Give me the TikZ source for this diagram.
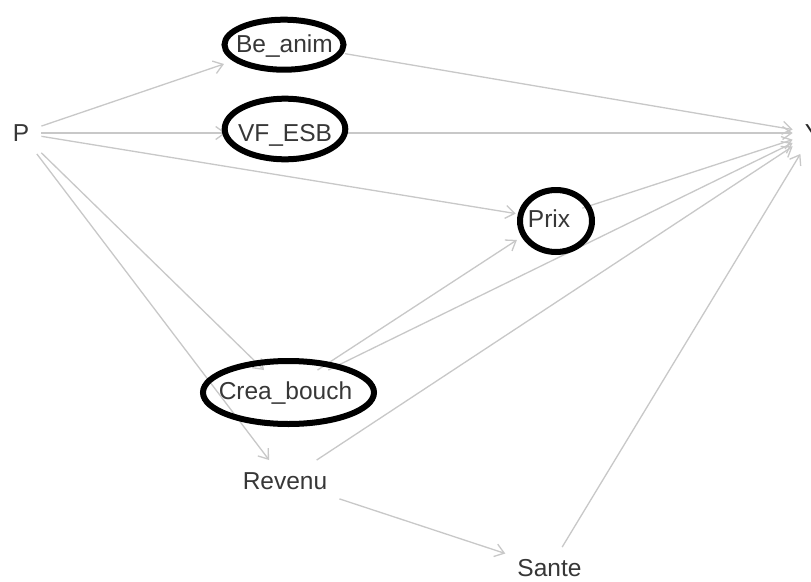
\documentclass[tikz,border=0pt]{standalone}
\usepackage{fontspec}
\setmainfont{Liberation Sans}
\usetikzlibrary{arrows.meta,shapes.geometric}
\definecolor{edgegray}{RGB}{200,200,200}
\definecolor{txtgray}{RGB}{55,55,55}
\begin{document}
\begin{tikzpicture}[x=1pt,y=-1pt,
  var/.style={rectangle, inner xsep=12pt, inner ysep=12pt, text height=17.5pt, text depth=0pt,
    font=\fontsize{24.5}{28}\selectfont, text=txtgray},
  edge/.style={draw=edgegray, line width=1.3pt, -{Straight Barb[length=9pt,width=13pt,line width=1.3pt]}},
  ring/.style={ellipse, draw=black, line width=6pt, inner sep=0pt}
]
\useasboundingbox (0,0) rectangle (811,581);
\fill[white] (0,0) rectangle (811,581);
% variables
\node[var] (P) at (21,133) {P};
\node[var] (Be) at (284.5,43.5) {Be\_anim};
\node[var] (VF) at (285,133) {VF\_ESB};
\node[var] (Prix) at (549,219) {Prix};
\node[var] (Crea) at (285.5,391) {Crea\_bouch};
\node[var] (Rev) at (285,481) {Revenu};
\node[var] (Sante) at (549.5,568) {Sante};
\node[var, text=black!85] (Y) at (813,133) {Y};
% connectors
\draw[edge] (P) -- (Be);
\draw[edge] (P) -- (VF);
\draw[edge] (P) -- (Prix);
\draw[edge] (P) -- (Crea);
\draw[edge] (P) -- (Rev);
\draw[edge] (Be) -- (Y);
\draw[edge] (VF) -- (Y);
\draw[edge] (Prix) -- (Y);
\draw[edge] (Crea) -- (Prix);
\draw[edge] (Crea) -- (Y);
\draw[edge] (Rev) -- (Y);
\draw[edge] (Rev) -- (Sante);
\draw[edge] (Sante) -- (Y);
% highlight rings
\node[ring, minimum width=119pt, minimum height=50pt] (ringBe) at (284,44.7) {};
\node[ring, minimum width=120.6pt, minimum height=60.6pt] (ringVF) at (285,129) {};
\node[ring, minimum width=72pt, minimum height=62pt] (ringPrix) at (556,221) {};
\node[ring, minimum width=171pt, minimum height=63pt] (ringCrea) at (288.5,392.5) {};
\end{tikzpicture}
\end{document}
